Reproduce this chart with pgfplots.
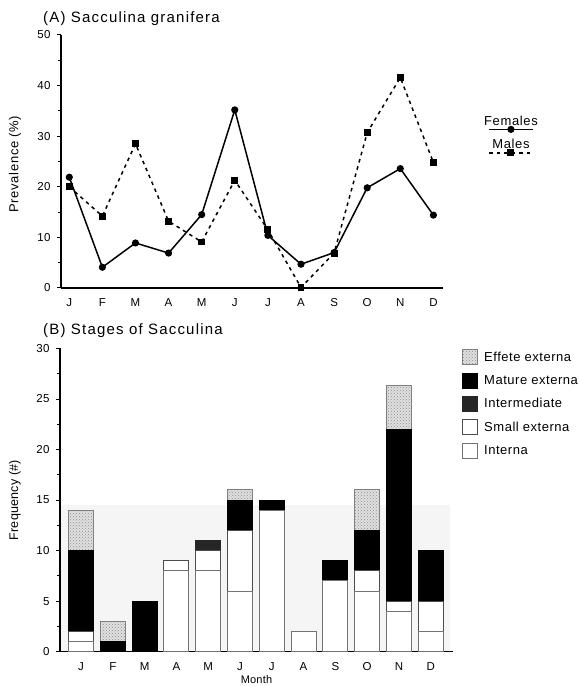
\documentclass[border=0pt]{standalone}
\usepackage{fontspec}
\setmainfont{Liberation Sans}
\usepackage{pgfplots}
\pgfplotsset{compat=1.18}
\usetikzlibrary{patterns}

\newcommand\lsfont[2]{\fontsize{#1}{#1}\selectfont\addfontfeatures{LetterSpace=#2}}

\pgfplotstableread{
x interna small inter mature effete
0 1 1 0 8 4
1 0 0 0 1 2
2 0 0 0 5 0
3 8 1 0 0 0
4 8 2 1 0 0
5 6 6 0 3 1
6 14 0 0 1 0
7 2 0 0 0 0
8 7 0 0 2 0
9 6 2 0 4 4
10 4 1 0 17 4.3
11 2 3 0 5 0
}\stages

\pgfplotsset{
  femleg/.style={legend image code/.code={
    \draw[mark repeat=2, mark phase=2, ##1] plot coordinates {(0pt,0pt) (21.7pt,0pt) (43.4pt,0pt)};
    \node[anchor=base, font=\lsfont{13}{5}, inner sep=0pt] at (21.7pt,4.3pt) {Females};
  }},
  maleleg/.style={legend image code/.code={
    \draw[mark repeat=2, mark phase=2, ##1] plot coordinates {(0pt,0pt) (21.7pt,0pt) (43.4pt,0pt)};
    \node[anchor=base, font=\lsfont{13}{5}, inner sep=0pt] at (21.7pt,4.4pt) {Males};
  }},
  boxleg/.style={legend image code/.code={\draw[##1] (0pt,-7.5pt) rectangle (15pt,7.5pt);}},
}

\begin{document}
\begin{tikzpicture}
\useasboundingbox (0pt,0pt) rectangle (580pt,686pt);
\pgfplotsset{
  every axis/.append style={
    scale only axis,
    axis lines=left,
    axis line style={-, line width=1.3pt},
    tick style={black, line width=1pt},
    tick align=outside,
    major tick length=4pt, minor tick length=3pt,
    font=\lsfont{12}{2},
    tick label style={font=\lsfont{11.5}{3}},
    /pgf/number format/assume math mode=true,
    xtick={0,...,11},
    xticklabels={J,F,M,A,M,J,J,A,S,O,N,D},
    x tick style={draw=none},
    yticklabel style={xshift=-3pt},
    xticklabel style={yshift=-3pt},
    clip=false,
  }
}
\node[anchor=base west, font=\lsfont{15}{8}, inner sep=0pt] at (43pt,663pt) {(A) Sacculina granifera};
\node[anchor=base west, font=\lsfont{15}{8}, inner sep=0pt] at (43pt,351pt) {(B) Stages of Sacculina};

\begin{axis}[
  at={(61pt,398pt)}, anchor=south west,
  width=382pt, height=253pt,
  xmin=-0.25, xmax=11.29, ymin=0, ymax=50,
  ytick={0,10,...,50}, minor y tick num=1,
  ylabel={Prevalence (\%)},
  ylabel style={at={(axis description cs:-0.1204,0.49)}, anchor=center, font=\lsfont{13}{5}},
  legend style={draw=none, fill=none, at={(rel axis cs:1.107,0.682)}, anchor=north west,
    inner sep=0pt, nodes={inner sep=0pt}, row sep=6.8pt},
]
\addplot[black, line width=1.5pt, mark=*, mark size=2.8pt, femleg] coordinates {
(0,21.9) (1,4.1) (2,8.9) (3,6.9) (4,14.5) (5,35.2) (6,10.4) (7,4.7) (8,7.0) (9,19.8) (10,23.6) (11,14.4)
};
\addlegendentry{\null}
\addplot[black, line width=1.5pt, dash pattern=on 3.5pt off 4pt, mark=square*, mark size=2.7pt, mark options={solid}, maleleg] coordinates {
(0,20.0) (1,14.2) (2,28.5) (3,13.2) (4,9.1) (5,21.3) (6,11.5) (7,0.1) (8,6.9) (9,30.7) (10,41.6) (11,24.8)
};
\addlegendentry{\null}
\end{axis}

% light background band (scan shading), drawn behind the bars
\begin{axis}[
  at={(60pt,34.3pt)}, anchor=south west,
  width=393pt, height=303.2pt, hide axis,
  xmin=-0.66, xmax=11.7, ymin=0, ymax=30,
]
\fill[black!4] (axis cs:-0.66,0) rectangle (axis cs:11.6,14.5);
\end{axis}

\begin{axis}[
  at={(60pt,34.3pt)}, anchor=south west,
  width=393pt, height=303.2pt,
  xmin=-0.66, xmax=11.7, ymin=0, ymax=30,
  ytick={0,5,...,30}, minor y tick num=1,
  ybar stacked, bar width=25pt,
  ylabel={Frequency (\#)},
  ylabel style={at={(axis description cs:-0.1145,0.5)}, anchor=center, font=\lsfont{12.5}{2}},
  xlabel={Month},
  xlabel style={at={(axis description cs:0.5,0)}, anchor=base, yshift=-32pt, font=\lsfont{11}{2}},
  reverse legend,
  legend style={draw=none, fill=none, at={(rel axis cs:1.023,0.998)}, anchor=north west,
    inner sep=0pt, nodes={inner sep=1pt, anchor=west}, row sep=7.3pt, column sep=5pt,
    font=\lsfont{13}{4}},
  boxleg,
]
\addplot[fill=white, draw=black!55, line width=1pt] table[x=x, y=interna] {\stages};
\addplot[fill=white, draw=black!70, line width=1pt] table[x=x, y=small] {\stages};
\addplot[fill=black!85, draw=black!85, line width=1pt] table[x=x, y=inter] {\stages};
\addplot[fill=black, draw=black, line width=1pt] table[x=x, y=mature] {\stages};
\addplot[fill=black!12, draw=black!50, line width=1pt, postaction={pattern=crosshatch dots, pattern color=black!45}] table[x=x, y=effete] {\stages};
\legend{Interna, Small externa, Intermediate, Mature externa, Effete externa}
\end{axis}
\end{tikzpicture}
\end{document}
